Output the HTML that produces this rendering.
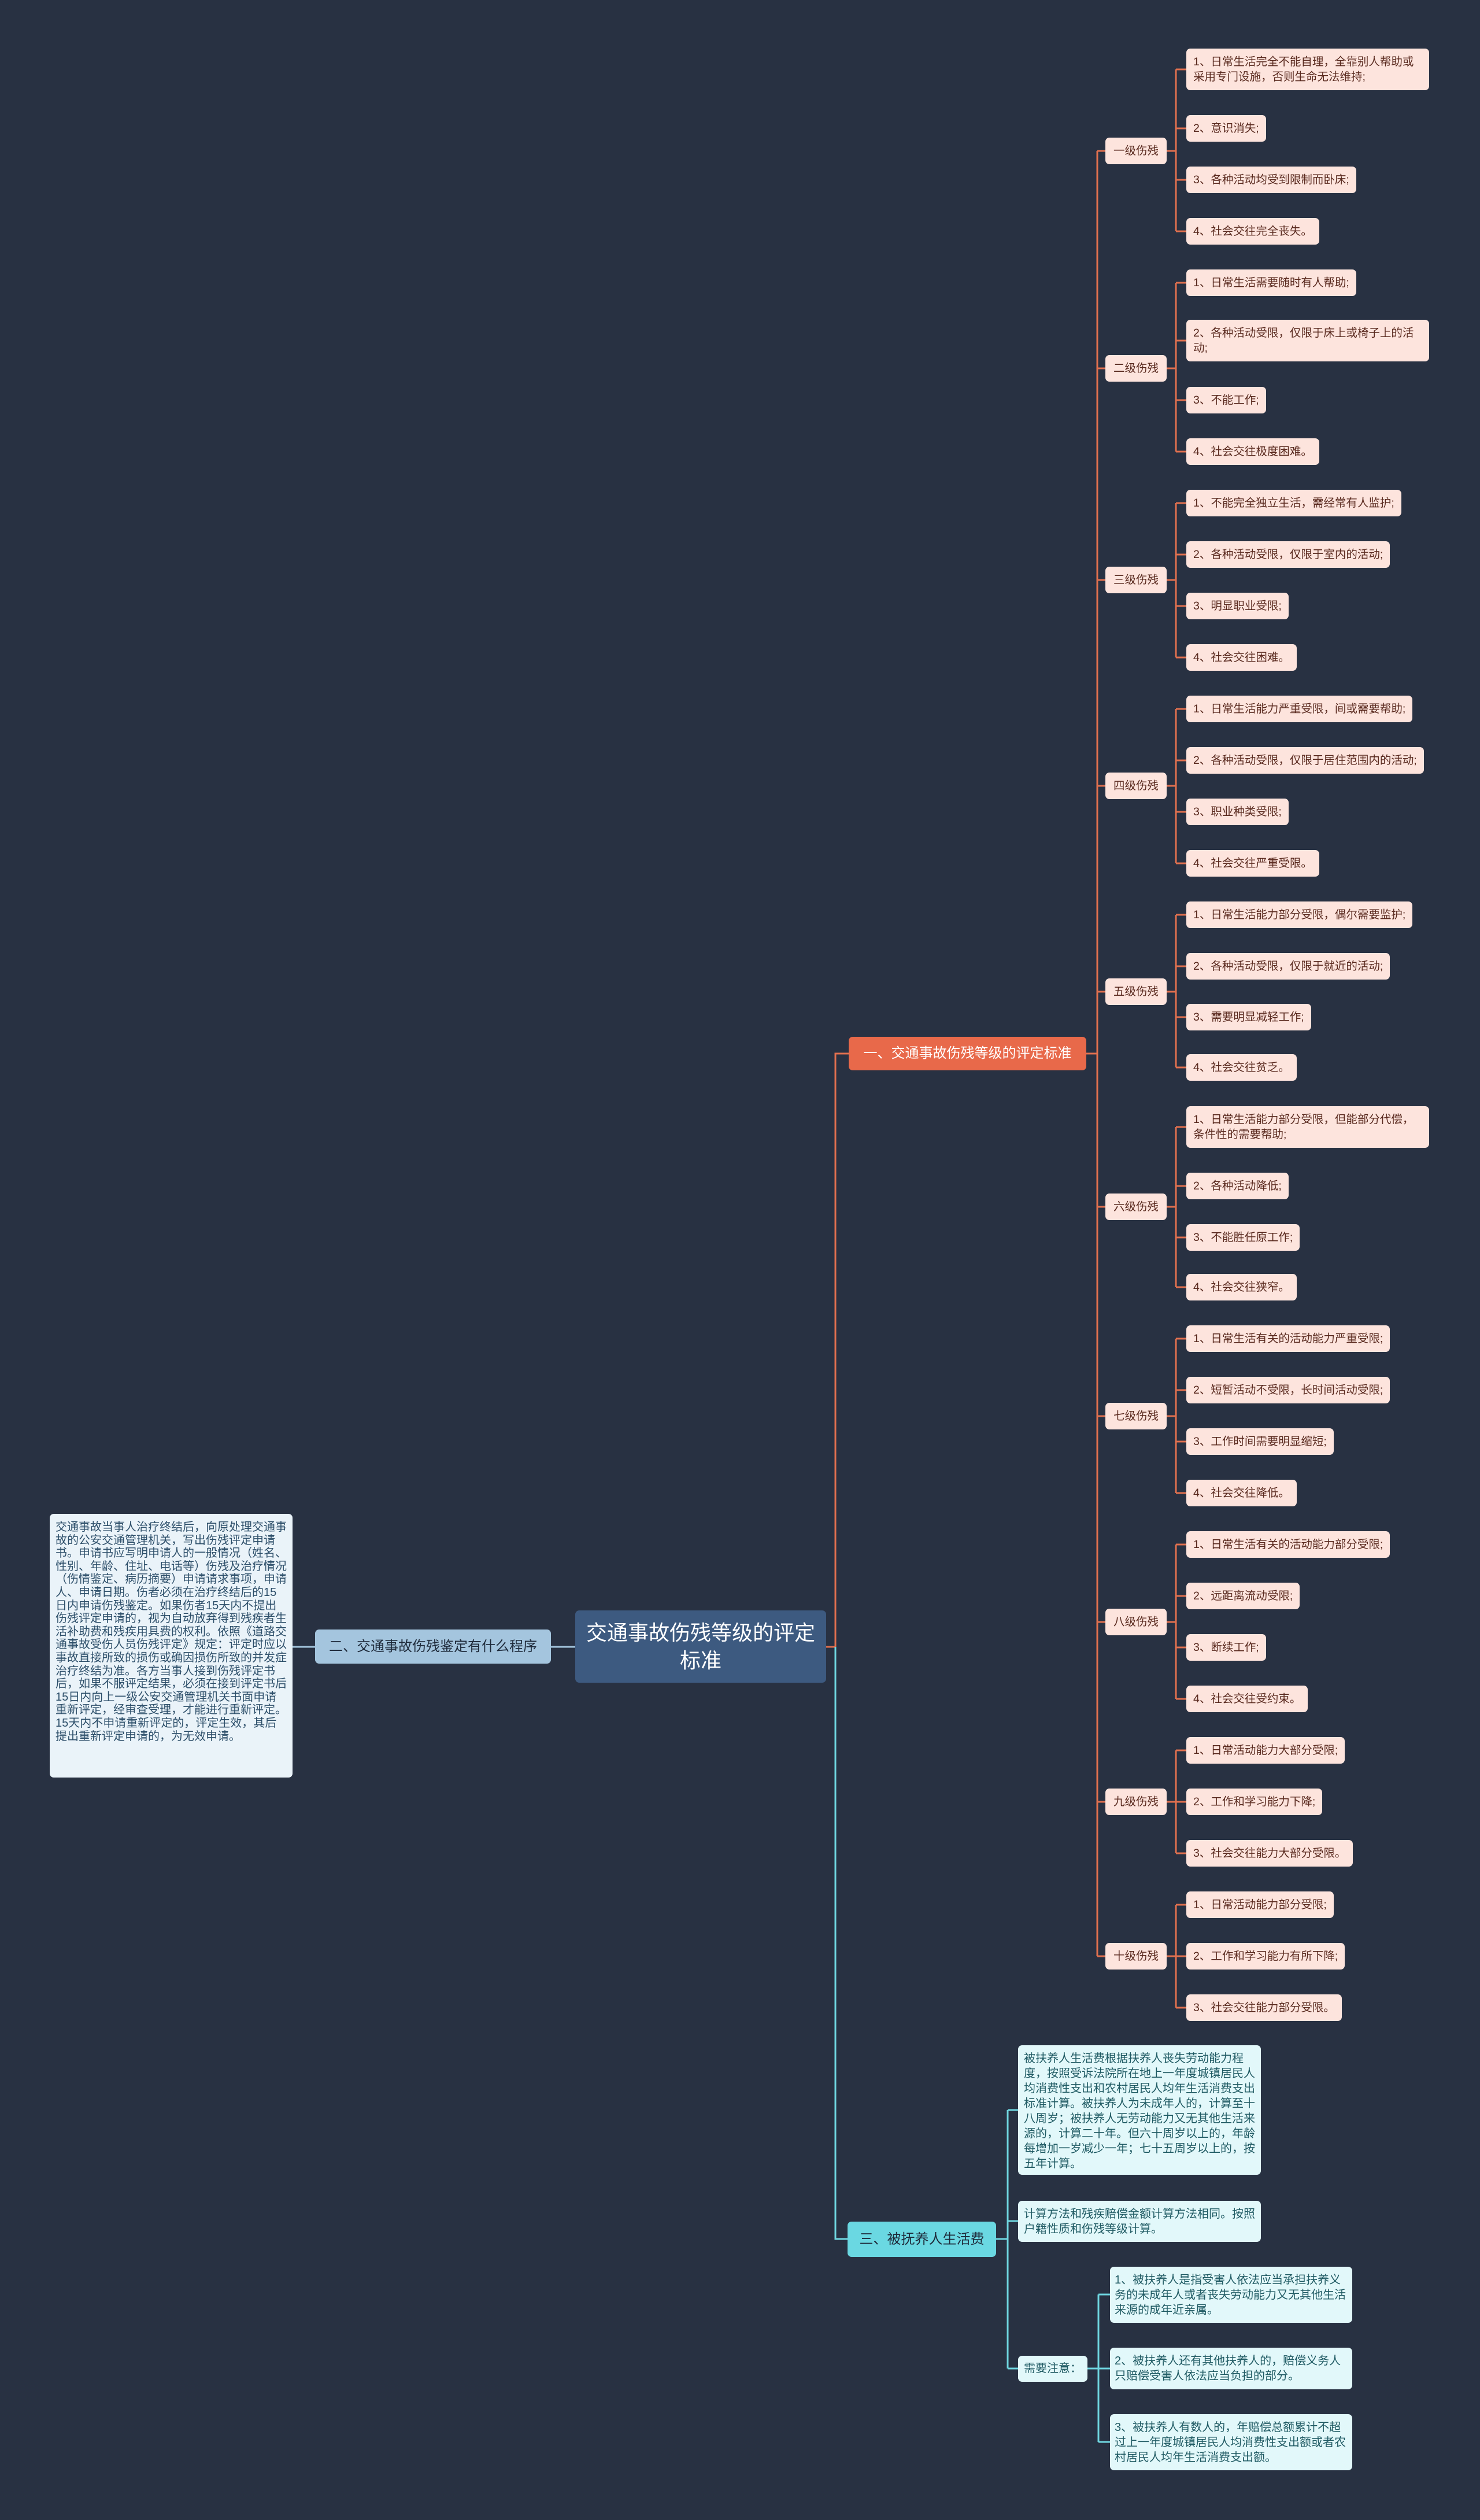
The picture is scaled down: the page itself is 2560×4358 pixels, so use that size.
<!DOCTYPE html>
<html><head><meta charset="utf-8"><style>
html,body{margin:0;padding:0}
body{width:2560px;height:4358px;background:#283142;position:relative;overflow:hidden;font-family:"Liberation Sans","Noto Sans CJK SC",sans-serif}
.l,.g{position:absolute;background:#fde4dd;color:#5a2a1f;border-radius:7px;font-size:19.5px;line-height:26px;transform:translateY(-50%);box-sizing:border-box}
.l{left:2052px;padding:10px 12px;white-space:nowrap}
.l.w{white-space:normal;width:420px}
.g{left:1912px;width:106px;height:46px;line-height:46px;text-align:center}
.c{position:absolute;background:#e2f8fa;color:#1f5a63;border-radius:7px;font-size:20px;line-height:26px;padding:10px 10px;box-sizing:border-box}
</style></head><body>
<svg width="2560" height="4358" style="position:absolute;left:0;top:0" fill="none">
<g stroke="#e0704f" stroke-width="3">
<path d="M1429 2848 H1445 V1822 H1468"/>
<path d="M1879 1822 H1898 M1898 261 V3383 M1898 261 H1912 M1898 637 H1912 M1898 1003 H1912 M1898 1359 H1912 M1898 1715 H1912 M1898 2087 H1912 M1898 2449 H1912 M1898 2805 H1912 M1898 3116 H1912 M1898 3383 H1912"/>
<path d="M2018 261 H2034 M2034 120 V400 M2034 120 H2052 M2034 222 H2052 M2034 311 H2052 M2034 400 H2052"/>
<path d="M2018 637 H2034 M2034 489 V781 M2034 489 H2052 M2034 589 H2052 M2034 692 H2052 M2034 781 H2052"/>
<path d="M2018 1003 H2034 M2034 870 V1137 M2034 870 H2052 M2034 959 H2052 M2034 1048 H2052 M2034 1137 H2052"/>
<path d="M2018 1359 H2034 M2034 1226 V1493 M2034 1226 H2052 M2034 1315 H2052 M2034 1404 H2052 M2034 1493 H2052"/>
<path d="M2018 1715 H2034 M2034 1582 V1846 M2034 1582 H2052 M2034 1671 H2052 M2034 1759 H2052 M2034 1846 H2052"/>
<path d="M2018 2087 H2034 M2034 1949 V2226 M2034 1949 H2052 M2034 2051 H2052 M2034 2140 H2052 M2034 2226 H2052"/>
<path d="M2018 2449 H2034 M2034 2315 V2582 M2034 2315 H2052 M2034 2404 H2052 M2034 2493 H2052 M2034 2582 H2052"/>
<path d="M2018 2805 H2034 M2034 2671 V2938 M2034 2671 H2052 M2034 2760 H2052 M2034 2849 H2052 M2034 2938 H2052"/>
<path d="M2018 3116 H2034 M2034 3027 V3205 M2034 3027 H2052 M2034 3116 H2052 M2034 3205 H2052"/>
<path d="M2018 3383 H2034 M2034 3294 V3472 M2034 3294 H2052 M2034 3383 H2052 M2034 3472 H2052"/>
</g>
<g stroke="#6fd6e0" stroke-width="3">
<path d="M1445 2848 V3872 H1466"/>
<path d="M1723 3872 H1743 M1743 3649 V4096 M1743 3649 H1761 M1743 3841 H1761 M1743 4096 H1761"/>
<path d="M1881 4096 H1900 M1900 3968 V4223 M1900 3968 H1920 M1900 4096 H1920 M1900 4223 H1920"/>
</g>
<g stroke="#a4c5de" stroke-width="3"><path d="M995 2848 H953 M545 2848 H506"/></g>
</svg>

<div style="position:absolute;left:995px;top:2785px;width:434px;height:125px;background:#3d5a80;border-radius:7px;color:#fff;font-size:36px;line-height:48px;display:flex;align-items:center;justify-content:center;text-align:center;padding:0 10px;box-sizing:border-box">交通事故伤残等级的评定标准</div>

<div style="position:absolute;left:1468px;top:1793px;width:411px;height:58px;background:#e8694a;border-radius:7px;color:#fff;font-size:24px;line-height:58px;text-align:center">一、交通事故伤残等级的评定标准</div>
<div style="position:absolute;left:545px;top:2818px;width:408px;height:59px;background:#a4c5de;border-radius:7px;color:#1e2a3a;font-size:24px;line-height:59px;text-align:center">二、交通事故伤残鉴定有什么程序</div>
<div style="position:absolute;left:1466px;top:3842px;width:257px;height:61px;background:#6ad8e2;border-radius:7px;color:#1e2a3a;font-size:24px;line-height:61px;text-align:center">三、被抚养人生活费</div>

<div style="position:absolute;left:86px;top:2618px;width:420px;height:456px;background:#eaf3f9;border-radius:7px;color:#2d4f6a;font-size:20px;line-height:22.6px;padding:12px 10px;box-sizing:border-box">交通事故当事人治疗终结后，向原处理交通事故的公安交通管理机关，写出伤残评定申请书。申请书应写明申请人的一般情况（姓名、性别、年龄、住址、电话等）伤残及治疗情况（伤情鉴定、病历摘要）申请请求事项，申请人、申请日期。伤者必须在治疗终结后的15日内申请伤残鉴定。如果伤者15天内不提出伤残评定申请的，视为自动放弃得到残疾者生活补助费和残疾用具费的权利。依照《道路交通事故受伤人员伤残评定》规定：评定时应以事故直接所致的损伤或确因损伤所致的并发症治疗终结为准。各方当事人接到伤残评定书后，如果不服评定结果，必须在接到评定书后15日内向上一级公安交通管理机关书面申请重新评定，经审查受理，才能进行重新评定。15天内不申请重新评定的，评定生效，其后提出重新评定申请的，为无效申请。</div>

<div class="g" style="top:261px">一级伤残</div>
<div class="g" style="top:637px">二级伤残</div>
<div class="g" style="top:1003px">三级伤残</div>
<div class="g" style="top:1359px">四级伤残</div>
<div class="g" style="top:1715px">五级伤残</div>
<div class="g" style="top:2087px">六级伤残</div>
<div class="g" style="top:2449px">七级伤残</div>
<div class="g" style="top:2805px">八级伤残</div>
<div class="g" style="top:3116px">九级伤残</div>
<div class="g" style="top:3383px">十级伤残</div>

<div class="l w" style="top:120px">1、日常生活完全不能自理，全靠别人帮助或采用专门设施，否则生命无法维持;</div>
<div class="l" style="top:222px">2、意识消失;</div>
<div class="l" style="top:311px">3、各种活动均受到限制而卧床;</div>
<div class="l" style="top:400px">4、社会交往完全丧失。</div>
<div class="l" style="top:489px">1、日常生活需要随时有人帮助;</div>
<div class="l w" style="top:589px">2、各种活动受限，仅限于床上或椅子上的活动;</div>
<div class="l" style="top:692px">3、不能工作;</div>
<div class="l" style="top:781px">4、社会交往极度困难。</div>
<div class="l" style="top:870px">1、不能完全独立生活，需经常有人监护;</div>
<div class="l" style="top:959px">2、各种活动受限，仅限于室内的活动;</div>
<div class="l" style="top:1048px">3、明显职业受限;</div>
<div class="l" style="top:1137px">4、社会交往困难。</div>
<div class="l" style="top:1226px">1、日常生活能力严重受限，间或需要帮助;</div>
<div class="l" style="top:1315px">2、各种活动受限，仅限于居住范围内的活动;</div>
<div class="l" style="top:1404px">3、职业种类受限;</div>
<div class="l" style="top:1493px">4、社会交往严重受限。</div>
<div class="l" style="top:1582px">1、日常生活能力部分受限，偶尔需要监护;</div>
<div class="l" style="top:1671px">2、各种活动受限，仅限于就近的活动;</div>
<div class="l" style="top:1759px">3、需要明显减轻工作;</div>
<div class="l" style="top:1846px">4、社会交往贫乏。</div>
<div class="l w" style="top:1949px">1、日常生活能力部分受限，但能部分代偿，条件性的需要帮助;</div>
<div class="l" style="top:2051px">2、各种活动降低;</div>
<div class="l" style="top:2140px">3、不能胜任原工作;</div>
<div class="l" style="top:2226px">4、社会交往狭窄。</div>
<div class="l" style="top:2315px">1、日常生活有关的活动能力严重受限;</div>
<div class="l" style="top:2404px">2、短暂活动不受限，长时间活动受限;</div>
<div class="l" style="top:2493px">3、工作时间需要明显缩短;</div>
<div class="l" style="top:2582px">4、社会交往降低。</div>
<div class="l" style="top:2671px">1、日常生活有关的活动能力部分受限;</div>
<div class="l" style="top:2760px">2、远距离流动受限;</div>
<div class="l" style="top:2849px">3、断续工作;</div>
<div class="l" style="top:2938px">4、社会交往受约束。</div>
<div class="l" style="top:3027px">1、日常活动能力大部分受限;</div>
<div class="l" style="top:3116px">2、工作和学习能力下降;</div>
<div class="l" style="top:3205px">3、社会交往能力大部分受限。</div>
<div class="l" style="top:3294px">1、日常活动能力部分受限;</div>
<div class="l" style="top:3383px">2、工作和学习能力有所下降;</div>
<div class="l" style="top:3472px">3、社会交往能力部分受限。</div>

<div class="c" style="left:1761px;top:3537px;width:420px;height:224px">被扶养人生活费根据扶养人丧失劳动能力程度，按照受诉法院所在地上一年度城镇居民人均消费性支出和农村居民人均年生活消费支出标准计算。被扶养人为未成年人的，计算至十八周岁；被扶养人无劳动能力又无其他生活来源的，计算二十年。但六十周岁以上的，年龄每增加一岁减少一年；七十五周岁以上的，按五年计算。</div>
<div class="c" style="left:1761px;top:3806px;width:420px;height:71px">计算方法和残疾赔偿金额计算方法相同。按照户籍性质和伤残等级计算。</div>
<div class="c" style="left:1761px;top:4074px;width:120px;height:45px;padding:9px 10px">需要注意：</div>
<div class="c" style="left:1920px;top:3920px;width:419px;height:97px;padding:10px 8px">1、被扶养人是指受害人依法应当承担扶养义务的未成年人或者丧失劳动能力又无其他生活来源的成年近亲属。</div>
<div class="c" style="left:1920px;top:4060px;width:419px;height:72px;padding:10px 8px">2、被扶养人还有其他扶养人的，赔偿义务人只赔偿受害人依法应当负担的部分。</div>
<div class="c" style="left:1920px;top:4175px;width:419px;height:97px;padding:10px 8px">3、被扶养人有数人的，年赔偿总额累计不超过上一年度城镇居民人均消费性支出额或者农村居民人均年生活消费支出额。</div>
</body></html>
